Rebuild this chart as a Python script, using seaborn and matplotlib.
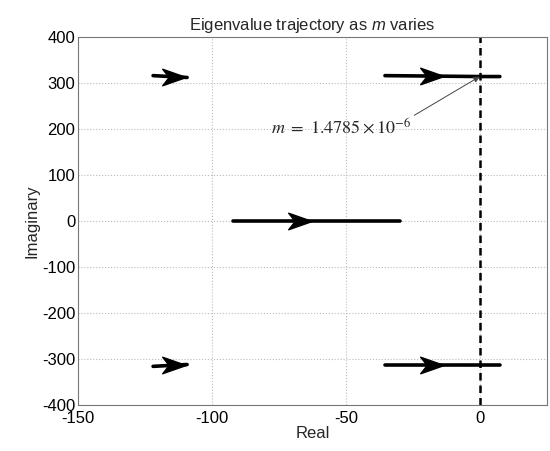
import matplotlib
matplotlib.use('Agg')
import matplotlib.pyplot as plt
import seaborn as sns
import pandas as pd
import numpy as np
from matplotlib.path import Path

# eigenvalue branches (real, imaginary) as m varies
branch = ['upper_left'] * 2 + ['lower_left'] * 2 + ['middle'] * 2 + ['upper_right'] * 3 + ['lower_right'] * 3
real = [-122, -109.3, -122, -109.3, -92.2, -29.9, -35.4, 0, 7.5, -35.4, 0, 7.5]
imag = [316, 312, -316, -312, 0, 0, 316, 314, 314, -313, -313, -313]

# where the direction arrows sit on each branch
arrow_re = [-114, -114, -67, -18, -18]
arrow_im = [313.5, -313.5, 0, 315, -313]

# marked point
m_re, m_im = 0, 314
label_re, label_im = -78, 204

sns.set_theme(style='white')
plt.rcParams['font.family'] = ['Liberation Sans', 'DejaVu Sans']
plt.rcParams['axes.unicode_minus'] = False
plt.rcParams['mathtext.fontset'] = 'custom'
plt.rcParams['mathtext.rm'] = 'Liberation Sans'
plt.rcParams['mathtext.it'] = 'Liberation Sans:italic'

df = pd.DataFrame({'branch': branch, 're': real, 'im': imag})

fig = plt.figure(figsize=(5.5, 4.51), dpi=100)
ax = fig.add_axes([0.142, 0.102, 0.852, 0.816])

sns.lineplot(data=df, x='re', y='im', units='branch', estimator=None, sort=False,
             color='black', lw=2.6, ax=ax)

# stealth-style arrow heads
head = Path([(1, 0), (-1, 0.7), (-0.45, 0), (-1, -0.7), (1, 0)],
            [Path.MOVETO, Path.LINETO, Path.LINETO, Path.LINETO, Path.CLOSEPOLY])
ax.plot(arrow_re, arrow_im, ls='none', marker=head, ms=17, color='black', mec='black')

ax.axvline(0, color='black', ls='--', lw=1.8, dashes=(3, 2))

ax.annotate(r'$m\ =\ \mathrm{1.4785}\times\mathrm{10}^{-6}$', xy=(m_re, m_im),
            xytext=(label_re, label_im), fontsize=13, math_fontfamily='stix',
            va='center',
            arrowprops=dict(arrowstyle='-|>', color='#444444', lw=0.7,
                            mutation_scale=9, shrinkA=0, shrinkB=0,
                            relpos=(1.0, 1.0)))

ax.set_xlim(-150, 25)
ax.set_ylim(-400, 400)
ax.set_xticks([-150, -100, -50, 0])
ax.set_yticks(np.arange(-400, 401, 100))
ax.grid(True, ls=':', color='#bbbbbb', lw=0.8)
ax.tick_params(direction='in', labelsize=12, length=4, colors='black', pad=2)
ax.tick_params(axis='x', pad=4)
for s in ax.spines.values():
    s.set_color('#777777')
    s.set_linewidth(0.8)

ax.set_xlabel('Real', fontsize=12, labelpad=0)
ax.set_ylabel('Imaginary', fontsize=12, labelpad=2)
ax.set_title(r'Eigenvalue trajectory as $m$ varies', fontsize=12, pad=5,
             math_fontfamily='custom')

fig.savefig('out.png', dpi=100)
